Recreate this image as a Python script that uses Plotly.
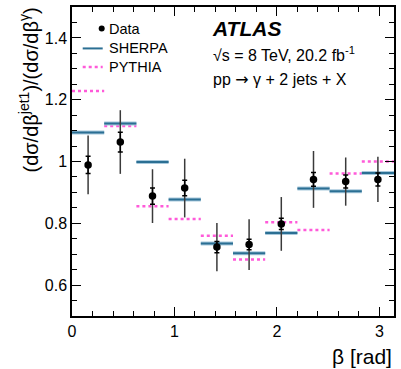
import numpy as np
import plotly.graph_objects as go

# ---- data ----
n_bins = 10
bin_edges = list(np.linspace(0, np.pi, n_bins + 1))
data_vals = [0.989, 1.063, 0.888, 0.914, 0.723, 0.731, 0.798, 0.942, 0.935, 0.942]
data_stat = [0.028, 0.032, 0.026, 0.025, 0.018, 0.017, 0.018, 0.022, 0.021, 0.021]
data_tot = [0.095, 0.103, 0.087, 0.095, 0.078, 0.082, 0.087, 0.092, 0.078, 0.073]
sherpa_vals = [1.094, 1.123, 0.998, 0.877, 0.735, 0.703, 0.769, 0.913, 0.904, 0.963]
pythia_vals = [1.228, 1.115, 0.855, 0.814, 0.760, 0.683, 0.803, 0.778, 0.961, 1.000]
legend_labels = ["Data", "SHERPA", "PYTHIA"]

FONT = "Liberation Sans, Arial, Helvetica, sans-serif"
W, H = 401, 369
L, R, T, B = 72, 394, 5, 316
SHERPA_C = "#2b6f93"
PYTHIA_C = "#ff5ad9"

centers = [(bin_edges[i] + bin_edges[i + 1]) / 2 for i in range(n_bins)]

def steps(vals):
    xs, ys = [], []
    for i, v in enumerate(vals):
        xs += [bin_edges[i], bin_edges[i + 1], None]
        ys += [v, v, None]
    return xs, ys

fig = go.Figure()
sx, sy = steps(sherpa_vals)
px_, py_ = steps(pythia_vals)
fig.add_trace(go.Scatter(x=px_, y=py_, mode="lines",
                         line=dict(color=PYTHIA_C, width=2.5, dash="dot"), showlegend=False))
fig.add_trace(go.Scatter(x=sx, y=sy, mode="lines",
                         line=dict(color="#a8c9dc", width=4), showlegend=False))
fig.add_trace(go.Scatter(x=sx, y=sy, mode="lines",
                         line=dict(color=SHERPA_C, width=2), showlegend=False))
fig.add_trace(go.Scatter(x=centers, y=data_vals, mode="markers",
                         marker=dict(size=1, color="rgba(0,0,0,0)"),
                         error_y=dict(type="data", array=data_tot, color="#3a3a3a",
                                      thickness=1.5, width=0), showlegend=False))
fig.add_trace(go.Scatter(x=centers, y=data_vals, mode="markers",
                         marker=dict(size=7.5, color="black"),
                         error_y=dict(type="data", array=data_stat, color="black",
                                      thickness=1.5, width=2.5), showlegend=False))

def pxx(p):
    return (p - L) / (R - L)

def pyy(p):
    return (B - p) / (B - T)

# legend (manual)
fig.add_trace(go.Scatter(x=[pxx(101.7)], y=[pyy(26.7)], xaxis="x2", yaxis="y2", mode="markers",
                         marker=dict(size=6, color="black"), showlegend=False))
fig.add_shape(type="line", xref="paper", yref="paper", x0=pxx(82.7), x1=pxx(102.7),
              y0=pyy(46.7), y1=pyy(46.7), line=dict(color=SHERPA_C, width=2))
fig.add_shape(type="line", xref="paper", yref="paper", x0=pxx(82.7), x1=pxx(102.7),
              y0=pyy(65.3), y1=pyy(65.3), line=dict(color=PYTHIA_C, width=2.5, dash="dot"))
for lab, yy in zip(legend_labels, [26.7, 46.7, 65.3]):
    fig.add_annotation(text=lab, xref="paper", yref="paper", x=pxx(107), y=pyy(yy),
                       xanchor="left", yanchor="middle", showarrow=False,
                       font=dict(family=FONT, size=14.5, color="black"))

fig.add_annotation(text="<b><i>ATLAS</i></b>", xref="paper", yref="paper", x=pxx(210),
                   y=pyy(27), xanchor="left", yanchor="middle", showarrow=False,
                   font=dict(family=FONT, size=21, color="black"))
fig.add_annotation(text="√s = 8 TeV, 20.2 fb<sup>-1</sup>", xref="paper", yref="paper",
                   x=pxx(211), y=pyy(52), xanchor="left", yanchor="middle", showarrow=False,
                   font=dict(family=FONT, size=16, color="black"))
fig.add_annotation(text="pp <span style=\"font-family:DejaVu Sans\">→</span> γ + 2 jets + X",
                   xref="paper", yref="paper",
                   x=pxx(211), y=pyy(78), xanchor="left", yanchor="middle", showarrow=False,
                   font=dict(family=FONT, size=16, color="black"))

# axis titles
fig.add_annotation(text="(dσ/dβ<sup>jet1</sup>)/(dσ/dβ<sup>γ</sup>)", xref="paper", yref="paper",
                   x=pxx(29), y=pyy(4), xanchor="center", yanchor="top", textangle=-90,
                   showarrow=False, font=dict(family=FONT, size=20, color="black"))
fig.add_annotation(text="β [rad]", xref="paper", yref="paper", x=pxx(394), y=pyy(357),
                   xanchor="right", yanchor="middle", showarrow=False,
                   font=dict(family=FONT, size=21, color="black"))

axis_common = dict(showline=True, linecolor="black", linewidth=1.5, mirror="ticks",
                   ticks="inside", ticklen=9, tickwidth=1.2, tickcolor="black",
                   showgrid=False, zeroline=False,
                   tickfont=dict(family=FONT, size=16, color="black"))
fig.update_layout(
    width=W, height=H,
    margin=dict(l=L, r=W - R, t=T, b=H - B),
    paper_bgcolor="white", plot_bgcolor="white",
    xaxis=dict(range=[0, np.pi], dtick=1, tick0=0,
               minor=dict(dtick=0.2, ticklen=5, tickwidth=1.2, tickcolor="black", ticks="inside"),
               **axis_common),
    yaxis=dict(range=[0.5, 1.5], dtick=0.2, tick0=0,
               minor=dict(dtick=0.05, ticklen=5, tickwidth=1.2, tickcolor="black", ticks="inside"),
               **axis_common),
    xaxis2=dict(range=[0, 1], overlaying="x", visible=False),
    yaxis2=dict(range=[0, 1], overlaying="y", visible=False),
    showlegend=False,
)
fig.write_html("out.html")
